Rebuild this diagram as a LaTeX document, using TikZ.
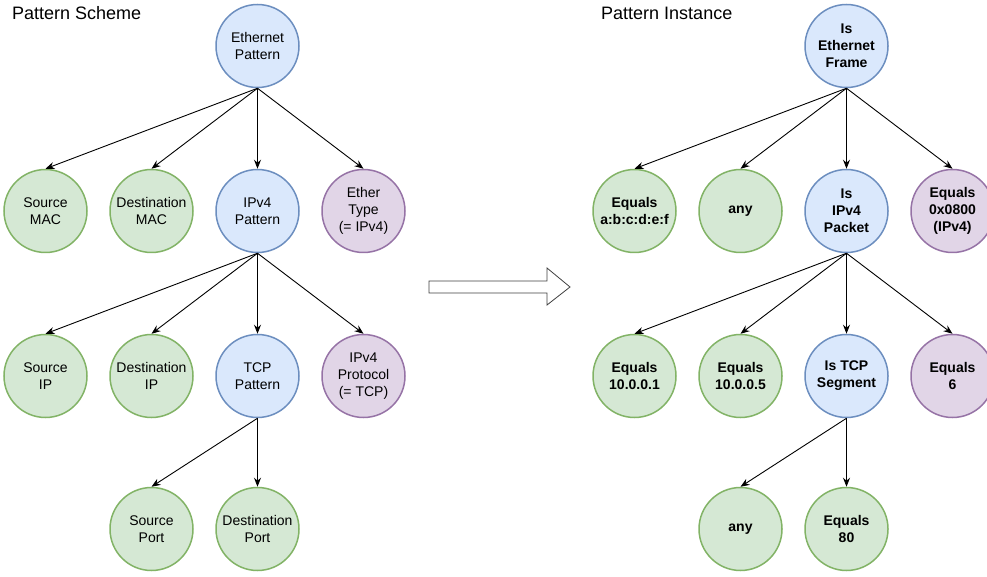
\documentclass[tikz,border=0pt]{standalone}
\usepackage{fontspec}
\setmainfont{Liberation Sans}
\usetikzlibrary{positioning,arrows.meta}
\definecolor{grfill}{HTML}{D5E8D4}
\definecolor{grline}{HTML}{82B366}
\definecolor{blfill}{HTML}{DAE8FC}
\definecolor{blline}{HTML}{6C8EBF}
\definecolor{pufill}{HTML}{E1D5E7}
\definecolor{puline}{HTML}{9673A6}
\newcommand{\myfont}{\fontsize{14}{17}\selectfont}
\newcommand{\titlefont}{\fontsize{18}{22}\selectfont}
\newcommand{\xdist}{106pt}
\newcommand{\xdistb}{212pt}
\newcommand{\xdistc}{589pt}
\newcommand{\ydist}{165pt}
\newcommand{\ydistb}{153pt}
\newcommand{\minw}{83pt}

\begin{document}
\begin{tikzpicture}[x=1pt, y=1pt,
  circnode/.style={circle, minimum size=\minw, inner sep=0pt, align=center,
    line width=1.5pt, font=\myfont},
  fieldnode/.style={circnode, draw=grline, fill=grfill},
  patnode/.style={circnode, draw=blline, fill=blfill},
  fixnode/.style={circnode, draw=puline, fill=pufill},
  arr/.style={line width=0.9pt, -{Stealth[length=9pt,width=7pt]}}]

  \useasboundingbox (0,0) rectangle (987,576);

  %%%%%%%%%%%%%%%%%%%%%%%%%%%%%%%%%%%%%%%%%%%%%%%%%%%%%%%%%%%%%%%%%%%%%%%%
  %%%%%%%%%%% pattern scheme
  %%%%%%%%%%%%%%%%%%%%%%%%%%%%%%%%%%%%%%%%%%%%%%%%%%%%%%%%%%%%%%%%%%%%%%%%

  % title
  \node [anchor=west, inner sep=0pt, font=\titlefont] (schemetitle) at (12,563) {Pattern Scheme};

  % Ethernet Pattern
  \node [patnode] (eth) at (257.5,530) {Ethernet\\Pattern};

  % Source MAC
  \node [fieldnode,
  below left=\ydist and \xdistb of eth.center,
  anchor=center] (smac) {Source\\MAC};

  % Destination MAC
  \node [fieldnode,
  below left=\ydist and \xdist of eth.center,
  anchor=center] (dmac) {Destination\\MAC};

  % IPv4 Pattern
  \node [patnode,
  below=\ydist of eth.center,
  anchor=center] (ipv4) {IPv4\\Pattern};

  % Ether Type
  \node [fixnode,
  below right=\ydist and \xdist of eth.center,
  anchor=center] (etype) {Ether\\Type\\(= IPv4)};

  % Source IP
  \node [fieldnode,
  below left=\ydist and \xdistb of ipv4.center,
  anchor=center] (sip) {Source\\IP};

  % Destination IP
  \node [fieldnode,
  below left=\ydist and \xdist of ipv4.center,
  anchor=center] (dip) {Destination\\IP};

  % TCP Pattern
  \node [patnode,
  below=\ydist of ipv4.center,
  anchor=center] (tcp) {TCP\\Pattern};

  % IPv4 Protocol
  \node [fixnode,
  below right=\ydist and \xdist of ipv4.center,
  anchor=center] (proto) {IPv4\\Protocol\\(= TCP)};

  % Source Port
  \node [fieldnode,
  below left=\ydistb and \xdist of tcp.center,
  anchor=center] (sport) {Source\\Port};

  % Destination Port
  \node [fieldnode,
  below=\ydistb of tcp.center,
  anchor=center] (dport) {Destination\\Port};

  % edges of the scheme
  \draw [arr] (eth.south) -- (smac.north);
  \draw [arr] (eth.south) -- (dmac.north);
  \draw [arr] (eth.south) -- (ipv4.north);
  \draw [arr] (eth.south) -- (etype.north);
  \draw [arr] (ipv4.south) -- (sip.north);
  \draw [arr] (ipv4.south) -- (dip.north);
  \draw [arr] (ipv4.south) -- (tcp.north);
  \draw [arr] (ipv4.south) -- (proto.north);
  \draw [arr] (tcp.south) -- (sport.north);
  \draw [arr] (tcp.south) -- (dport.north);

  %%%%%%%%%%%%%%%%%%%%%%%%%%%%%%%%%%%%%%%%%%%%%%%%%%%%%%%%%%%%%%%%%%%%%%%%
  %%%%%%%%%%% hollow arrow between scheme and instance
  %%%%%%%%%%%%%%%%%%%%%%%%%%%%%%%%%%%%%%%%%%%%%%%%%%%%%%%%%%%%%%%%%%%%%%%%

  \draw [line width=0.8pt, draw=black!75, fill=white]
  (429,295) -- (547,295) -- (547,308) -- (570,289) -- (547,271)
  -- (547,283) -- (429,283) -- cycle;

  %%%%%%%%%%%%%%%%%%%%%%%%%%%%%%%%%%%%%%%%%%%%%%%%%%%%%%%%%%%%%%%%%%%%%%%%
  %%%%%%%%%%% pattern instance
  %%%%%%%%%%%%%%%%%%%%%%%%%%%%%%%%%%%%%%%%%%%%%%%%%%%%%%%%%%%%%%%%%%%%%%%%

  % title
  \node [anchor=west, inner sep=0pt, font=\titlefont] (insttitle) at (601,563) {Pattern Instance};

  % Is Ethernet Frame
  \node [patnode, font=\myfont\bfseries,
  right=\xdistc of eth.center,
  anchor=center] (ieth) {Is\\Ethernet\\Frame};

  % Equals MAC
  \node [fieldnode, font=\myfont\bfseries,
  below left=\ydist and \xdistb of ieth.center,
  anchor=center] (ismac) {Equals\\a:b:c:d:e:f};

  % any MAC
  \node [fieldnode, font=\myfont\bfseries,
  below left=\ydist and \xdist of ieth.center,
  anchor=center] (idmac) {any};

  % Is IPv4 Packet
  \node [patnode, font=\myfont\bfseries,
  below=\ydist of ieth.center,
  anchor=center] (iipv4) {Is\\IPv4\\Packet};

  % Equals 0x0800
  \node [fixnode, font=\myfont\bfseries,
  below right=\ydist and \xdist of ieth.center,
  anchor=center] (ietype) {Equals\\0x0800\\(IPv4)};

  % Equals 10.0.0.1
  \node [fieldnode, font=\myfont\bfseries,
  below left=\ydist and \xdistb of iipv4.center,
  anchor=center] (isip) {Equals\\10.0.0.1};

  % Equals 10.0.0.5
  \node [fieldnode, font=\myfont\bfseries,
  below left=\ydist and \xdist of iipv4.center,
  anchor=center] (idip) {Equals\\10.0.0.5};

  % Is TCP Segment
  \node [patnode, font=\myfont\bfseries,
  below=\ydist of iipv4.center,
  anchor=center] (itcp) {Is TCP\\Segment};

  % Equals 6
  \node [fixnode, font=\myfont\bfseries,
  below right=\ydist and \xdist of iipv4.center,
  anchor=center] (iproto) {Equals\\6};

  % any port
  \node [fieldnode, font=\myfont\bfseries,
  below left=\ydistb and \xdist of itcp.center,
  anchor=center] (isport) {any};

  % Equals 80
  \node [fieldnode, font=\myfont\bfseries,
  below=\ydistb of itcp.center,
  anchor=center] (idport) {Equals\\80};

  % edges of the instance
  \draw [arr] (ieth.south) -- (ismac.north);
  \draw [arr] (ieth.south) -- (idmac.north);
  \draw [arr] (ieth.south) -- (iipv4.north);
  \draw [arr] (ieth.south) -- (ietype.north);
  \draw [arr] (iipv4.south) -- (isip.north);
  \draw [arr] (iipv4.south) -- (idip.north);
  \draw [arr] (iipv4.south) -- (itcp.north);
  \draw [arr] (iipv4.south) -- (iproto.north);
  \draw [arr] (itcp.south) -- (isport.north);
  \draw [arr] (itcp.south) -- (idport.north);

\end{tikzpicture}
\end{document}
